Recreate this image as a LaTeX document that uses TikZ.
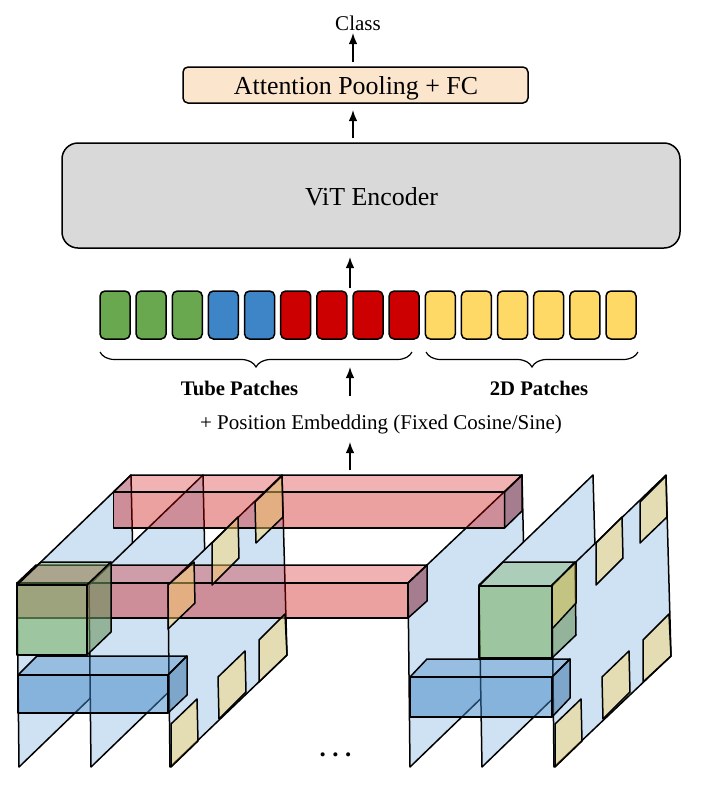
\documentclass[tikz,border=0pt]{standalone}
\usepackage{fontspec}
\setmainfont{Liberation Serif}
\usetikzlibrary{arrows.meta,decorations.pathreplacing}
\definecolor{planec}{HTML}{CFE2F3}
\definecolor{redc}{HTML}{CC0000}
\definecolor{redside}{HTML}{730416}
\definecolor{greenc}{HTML}{7DB269}
\definecolor{greenside}{HTML}{6C945F}
\definecolor{bluec}{HTML}{3D85C6}
\definecolor{blueside}{HTML}{2F6CA3}
\definecolor{tilec}{HTML}{FFD966}
\definecolor{greenpatch}{HTML}{6AA84F}
\definecolor{bluepatch}{HTML}{3D85C6}
\definecolor{yelpatch}{HTML}{FFD966}
\definecolor{peach}{HTML}{FCE5CD}
\definecolor{greyc}{HTML}{D9D9D9}
\tikzset{
  x=1pt,y=-1pt,
  edge/.style={draw=black,line width=1.5pt,line join=round},
  plane/.style={edge,fill=planec},
  tile/.style={edge,fill=tilec,fill opacity=.45},
  redfront/.style={edge,fill=redc,fill opacity=.37},
  redtop/.style={edge,fill=redc,fill opacity=.3},
  redsd/.style={edge,fill=redside,fill opacity=.45},
  grnfront/.style={edge,fill=greenc,fill opacity=.6},
  grntop/.style={edge,fill=greenc,fill opacity=.42},
  grnsd/.style={edge,fill=greenside,fill opacity=.6},
  blufront/.style={edge,fill=bluec,fill opacity=.5},
  blutop/.style={edge,fill=bluec,fill opacity=.38},
  blusd/.style={edge,fill=blueside,fill opacity=.5},
  patch/.style={draw=black,line width=1.5pt,rounded corners=5pt,minimum width=30pt,minimum height=48pt,inner sep=0pt},
  pgreen/.style={patch,fill=greenpatch},
  pblue/.style={patch,fill=bluepatch},
  pred/.style={patch,fill=redc},
  pyel/.style={patch,fill=yelpatch},
  flow/.style={draw=black,line width=1.4pt,-{Latex[length=11pt,width=8.5pt]}},
  bracel/.style={draw=black,line width=1.2pt,decorate,decoration={brace,mirror,amplitude=15pt}},
  txt/.style={inner sep=0pt,font=\fontsize{21}{24}\selectfont},
  boldtxt/.style={inner sep=0pt,font=\fontsize{20.7}{24}\selectfont\bfseries},
  big/.style={inner sep=0pt,font=\fontsize{25.9}{30}\selectfont},
}
\begin{document}
\begin{tikzpicture}
\useasboundingbox (0,0) rectangle (703,788);
% top stack
\node[txt] (class) at (358,23) {Class};
\node[draw=black,line width=1.5pt,fill=peach,rounded corners=5pt,minimum width=345pt,minimum height=36pt] (attn) at (355.5,85) {};
\node[big] (attnt) at (356,88.5) {Attention Pooling + FC};
\node[draw=black,line width=1.5pt,fill=greyc,rounded corners=16pt,minimum width=618pt,minimum height=105pt] (vit) at (371,195.5) {};
\node[big] (vitt) at (371.5,197) {ViT Encoder};
\coordinate (a1s) at (353,62); \coordinate (a1e) at (353,33);
\coordinate (a2s) at (353,138); \coordinate (a2e) at (353,110);
\coordinate (a3s) at (350,288); \coordinate (a3e) at (350,257);
\coordinate (a4s) at (350,396); \coordinate (a4e) at (350,367);
\coordinate (a5s) at (350,470); \coordinate (a5e) at (350,442);
\draw[flow] (a1s) -- (a1e);
\draw[flow] (a2s) -- (a2e);
\draw[flow] (a3s) -- (a3e);
\draw[flow] (a4s) -- (a4e);
\draw[flow] (a5s) -- (a5e);
% patches
\node[pgreen] (p1) at (115,315) {};
\node[pgreen] (p2) at (151.1,315) {};
\node[pgreen] (p3) at (187.3,315) {};
\node[pblue] (p4) at (223.4,315) {};
\node[pblue] (p5) at (259.6,315) {};
\node[pred] (p6) at (295.7,315) {};
\node[pred] (p7) at (331.9,315) {};
\node[pred] (p8) at (368,315) {};
\node[pred] (p9) at (404.1,315) {};
\node[pyel] (p10) at (440.3,315) {};
\node[pyel] (p11) at (476.4,315) {};
\node[pyel] (p12) at (512.6,315) {};
\node[pyel] (p13) at (548.7,315) {};
\node[pyel] (p14) at (584.9,315) {};
\node[pyel] (p15) at (621,315) {};
\coordinate (b1a) at (100,352); \coordinate (b1b) at (412,352);
\coordinate (b2a) at (426,352); \coordinate (b2b) at (638,352);
\draw[bracel] (b1a) -- (b1b);
\draw[bracel] (b2a) -- (b2b);
\node[boldtxt] (tube) at (239.5,388) {Tube Patches};
\node[boldtxt] (twod) at (539,388) {2D Patches};
\node[txt] (pos) at (381,424) {+ Position Embedding (Fixed Cosine/Sine)};
% left planes
\draw[plane] (19,767) -- (17,585) -- (131,475) -- (135,655) -- cycle;
\draw[plane] (91,767) -- (89,585) -- (203,475) -- (207,655) -- cycle;
\draw[plane] (170,767) -- (168,585) -- (282,475) -- (287,655) -- cycle;
% right planes
\draw[plane] (410,767) -- (408,583) -- (522,475) -- (526,655) -- cycle;
\draw[plane] (482,767) -- (479,585) -- (593,475) -- (598,655) -- cycle;
\draw[plane] (554,767) -- (552,585) -- (666,475) -- (671,656) -- cycle;
% back red tube
\draw[redtop] (113.5,492) -- (131,475) -- (522,475) -- (504.5,492) -- cycle;
\draw[redfront] (113.5,492) rectangle (504.5,528);
\draw[redsd] (504.5,492) -- (522,475) -- (522,511) -- (504.5,528) -- cycle;
% front red tube
\draw[redtop] (17,583) -- (36,565) -- (427,565) -- (408,583) -- cycle;
\draw[redfront] (17,583) rectangle (408,618);
\draw[redsd] (408,583) -- (427,565) -- (427,601) -- (408,618) -- cycle;
% tiles left
\draw[tile] (168,585) -- (194,562) -- (195,603) -- (168,629) -- cycle;
\draw[tile] (212,543) -- (238,517) -- (239,558) -- (212,585) -- cycle;
\draw[tile] (255,502) -- (282,476) -- (283,517) -- (256,543) -- cycle;
\draw[tile] (171,724) -- (197,699) -- (198,741) -- (171,767) -- cycle;
\draw[tile] (218,677) -- (245,651) -- (246,692) -- (219,719) -- cycle;
\draw[tile] (259,640) -- (285,614) -- (287,655) -- (259,682) -- cycle;
% green cubes
\draw[grntop] (17,585) -- (41,562) -- (111,562) -- (87,585) -- cycle;
\draw[grnfront] (17,585) rectangle (87,655);
\draw[grnsd] (87,585) -- (111,562) -- (111,632) -- (87,655) -- cycle;
\draw[grntop] (479,586) -- (503,562) -- (575,562) -- (552,586) -- cycle;
\draw[grnfront] (479,586) rectangle (552,658);
\draw[grnsd] (552,586) -- (575,562) -- (576,635) -- (552,658) -- cycle;
% tiles right
\draw[tile] (552,585) -- (576,562) -- (576,603) -- (552,629) -- cycle;
\draw[tile] (596,543) -- (622,517) -- (623,558) -- (596,585) -- cycle;
\draw[tile] (640,502) -- (666,476) -- (667,517) -- (640,543) -- cycle;
\draw[tile] (555,724) -- (581,699) -- (582,741) -- (555,767) -- cycle;
\draw[tile] (602,677) -- (629,651) -- (630,692) -- (603,719) -- cycle;
\draw[tile] (643,640) -- (669,614) -- (671,656) -- (643,682) -- cycle;
% blue tubes
\draw[blutop] (18,675) -- (37,656) -- (187,656) -- (168,675) -- cycle;
\draw[blufront] (18,675) rectangle (168,713);
\draw[blusd] (168,675) -- (187,656) -- (187,695) -- (168,713) -- cycle;
\draw[blutop] (410,677) -- (427,659) -- (570,659) -- (552,677) -- cycle;
\draw[blufront] (410,677) rectangle (552,717);
\draw[blusd] (552,677) -- (570,659) -- (570,698) -- (552,717) -- cycle;
% dots
\node[inner sep=0pt,font=\fontsize{25}{30}\selectfont\bfseries] (dots) at (335.5,755) {.\hspace{6.5pt}.\hspace{6.5pt}.};
\end{tikzpicture}
\end{document}
